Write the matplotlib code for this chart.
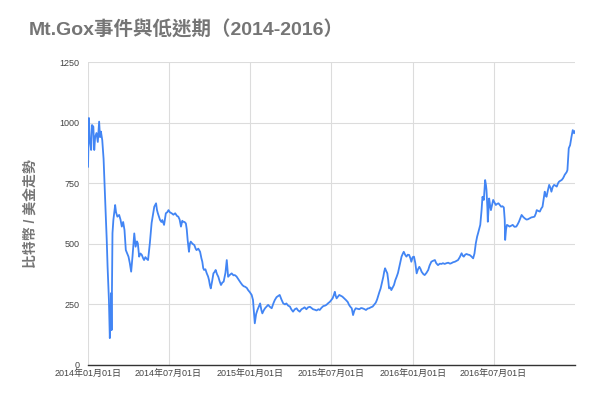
import matplotlib
matplotlib.use("Agg")
import matplotlib.pyplot as plt
import pandas as pd

plt.rcParams["font.family"] = ["Liberation Sans", "Noto Sans CJK TC", "DejaVu Sans"]

START = "2014-01-01"
# days since 2014-01-01 and price (USD)
DAYS = [
    0, 2, 4, 7, 9, 12, 14, 16, 19, 22, 25, 27, 29, 32, 35, 37, 40, 42, 44, 47,
    49, 51, 52, 53, 55, 57, 61, 63, 66, 70, 73, 76, 79, 82, 85, 88, 91, 94, 97, 100,
    104, 107, 110, 112, 115, 118, 121, 124, 126, 129, 132, 135, 139, 143, 146, 149, 153, 155, 157, 160,
    162, 165, 167, 171, 175, 178, 181, 184, 188, 192, 196, 200, 203, 206, 209, 212, 214, 217, 220, 222,
    224, 227, 229, 231, 235, 239, 242, 244, 248, 252, 255, 257, 259, 261, 264, 267, 270, 272, 274, 276,
    279, 282, 285, 287, 290, 293, 296, 299, 302, 305, 309, 312, 314, 315, 319, 323, 327, 330, 334, 339,
    343, 347, 350, 353, 357, 360, 364, 368, 371, 373, 375, 378, 381, 384, 387, 390, 392, 395, 398, 402,
    405, 409, 413, 417, 420, 424, 428, 431, 435, 439, 443, 446, 450, 454, 457, 461, 465, 469, 472, 476,
    480, 484, 487, 491, 495, 499, 502, 506, 510, 514, 518, 521, 525, 529, 533, 536, 540, 544, 547, 550,
    553, 555, 557, 559, 562, 565, 569, 572, 576, 580, 584, 587, 590, 593, 596, 599, 602, 606, 610, 614,
    617, 621, 625, 629, 632, 636, 640, 644, 647, 650, 652, 655, 658, 661, 664, 666, 668, 670, 673, 675,
    677, 680, 682, 685, 688, 691, 694, 697, 700, 703, 705, 708, 710, 713, 716, 719, 722, 725, 727, 730,
    733, 736, 739, 742, 745, 748, 750, 754, 757, 761, 765, 768, 772, 776, 780, 783, 787, 791, 795, 798,
    802, 806, 810, 814, 817, 821, 825, 829, 832, 836, 840, 843, 845, 848, 851, 855, 858, 862, 866, 869,
    872, 875, 877, 880, 882, 885, 887, 890, 893, 895, 896, 898, 899, 901, 902, 904, 906, 909, 911, 914,
    917, 920, 923, 926, 929, 932, 935, 937, 938, 940, 942, 945, 948, 952, 955, 959, 963, 966, 969, 972,
    975, 979, 982, 986, 989, 993, 997, 1000, 1004, 1007, 1009, 1013, 1016, 1019, 1022, 1025, 1027, 1029, 1031, 1034,
    1037, 1040, 1042, 1045, 1048, 1051, 1054, 1057, 1059, 1062, 1065, 1068, 1070, 1072, 1074, 1076, 1078, 1081, 1084, 1087,
    1090, 1093, 1095,
]
PRICE = [
    818, 1019, 930, 887, 990, 983, 887, 940, 957, 920, 1004, 940, 963, 928, 850, 750, 612, 520, 405, 268,
    111, 220, 297, 144, 544, 598, 660, 630, 612, 619, 600, 571, 590, 557, 474, 460, 447, 420, 385, 447,
    543, 488, 510, 502, 447, 460, 454, 440, 433, 445, 438, 433, 502, 586, 620, 653, 667, 640, 626, 610,
    598, 590, 598, 578, 626, 630, 639, 630, 626, 620, 626, 615, 612, 600, 571, 595, 591, 590, 584, 560,
    516, 467, 500, 509, 500, 495, 480, 474, 480, 467, 440, 426, 400, 392, 395, 378, 365, 351, 330, 316,
    345, 378, 385, 392, 375, 364, 345, 330, 340, 344, 380, 433, 390, 364, 372, 378, 370, 371, 365, 351,
    340, 330, 325, 323, 318, 309, 300, 289, 268, 220, 172, 210, 227, 240, 254, 225, 213, 225, 234, 242,
    248, 240, 234, 255, 268, 280, 285, 289, 270, 254, 250, 254, 245, 241, 230, 220, 230, 234, 226, 220,
    230, 234, 238, 230, 238, 240, 236, 230, 228, 225, 230, 227, 236, 243, 245, 248, 255, 261, 268, 275,
    290, 302, 285, 275, 282, 289, 285, 282, 275, 268, 260, 248, 240, 234, 206, 225, 234, 232, 230, 235,
    234, 231, 227, 233, 234, 238, 241, 250, 257, 270, 282, 300, 316, 340, 364, 385, 399, 390, 378, 350,
    316, 320, 309, 320, 330, 350, 364, 380, 405, 430, 447, 460, 467, 455, 447, 455, 454, 440, 426, 445,
    447, 420, 378, 395, 405, 395, 385, 375, 371, 380, 392, 410, 426, 430, 433, 420, 412, 418, 417, 420,
    417, 420, 422, 418, 420, 424, 426, 430, 433, 445, 461, 450, 447, 455, 458, 455, 454, 448, 440, 460,
    502, 530, 543, 565, 578, 640, 694, 681, 763, 740, 722, 650, 591, 660, 687, 660, 639, 665, 681, 670,
    660, 665, 667, 660, 653, 655, 650, 600, 516, 560, 578, 575, 571, 575, 578, 570, 571, 580, 591, 605,
    619, 610, 605, 600, 601, 605, 609, 610, 612, 625, 639, 635, 633, 645, 653, 690, 715, 700, 694, 720,
    743, 730, 715, 735, 743, 740, 736, 750, 756, 760, 763, 770, 777, 785, 790, 795, 804, 894, 907, 940,
    969, 956, 965,
]

TICK_DATES = ["2014-01-01", "2014-07-01", "2015-01-01", "2015-07-01", "2016-01-01", "2016-07-01"]
Y_TICKS = [0, 250, 500, 750, 1000, 1250]
TITLE = "Mt.Gox事件與低迷期（2014-2016）"
YLABEL = "比特幣 / 美金走勢"

dates = pd.to_datetime(START) + pd.to_timedelta(DAYS, unit="D")
ticks = pd.to_datetime(TICK_DATES)

fig = plt.figure(figsize=(6, 4), dpi=100)
ax = fig.add_axes([0.1467, 0.0875, 0.8116, 0.7575])

ax.plot(dates, PRICE, color="#4285F4", lw=1.3)

ax.set_xlim(pd.Timestamp("2014-01-01"), pd.Timestamp("2016-12-31"))
ax.set_ylim(0, 1250)
ax.set_yticks(Y_TICKS)
ax.set_xticks(ticks)
ax.set_xticklabels([t.strftime("%Y年%m月%d日") for t in ticks])
ax.grid(color="#dcdcdc", lw=0.8)
ax.set_axisbelow(True)
for s in ["top", "right", "left"]:
    ax.spines[s].set_visible(False)
ax.spines["bottom"].set_color("#333333")
ax.spines["bottom"].set_linewidth(1.0)
ax.tick_params(length=0, labelsize=6.5, colors="#444444", pad=3)
ax.tick_params(axis="y", pad=6)

ax.set_ylabel(YLABEL, fontsize=10, color="#757575", fontweight="bold", labelpad=16)
fig.text(0.048, 0.925, TITLE, fontsize=14, fontweight="bold", color="#757575", va="center")

fig.savefig("out.png", dpi=100)
